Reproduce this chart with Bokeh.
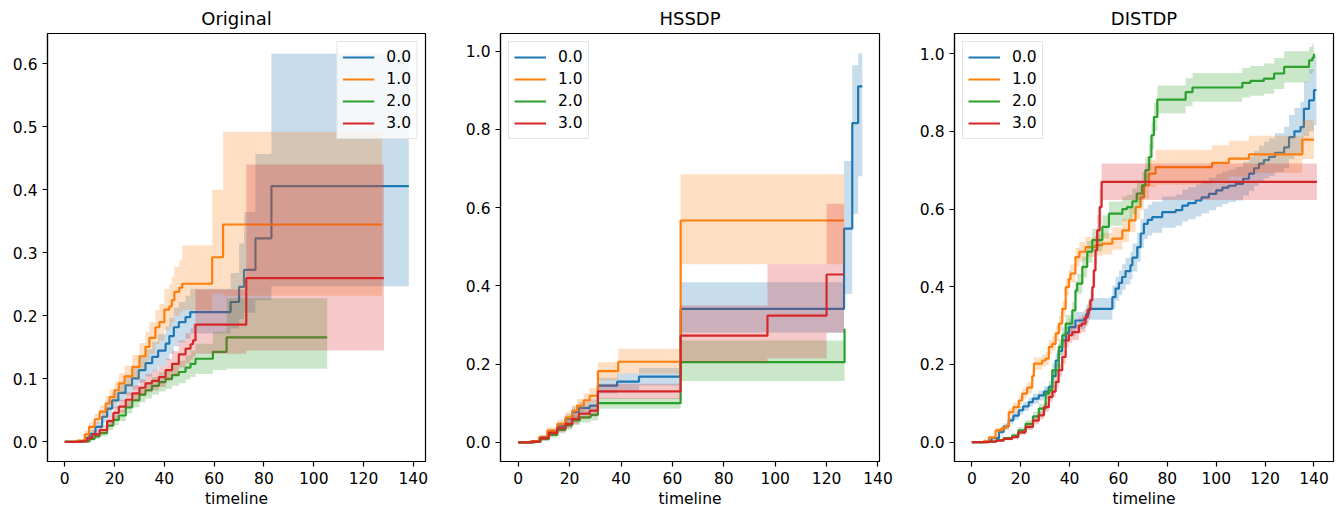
from bokeh.plotting import figure
from bokeh.layouts import row
from bokeh.models import Range1d, FixedTicker, PrintfTickFormatter, Legend, LegendItem
from bokeh.embed import file_html
from bokeh.resources import INLINE

GROUPS = ["0.0", "1.0", "2.0", "3.0"]
COLORS = ["#1f77b4", "#ff7f0e", "#2ca02c", "#d62728"]
TITLES = ["Original", "HSSDP", "DISTDP"]
X_TICKS = [0, 20, 40, 60, 80, 100, 120, 140]
Y_TICKS_ORIG = [0.0, 0.1, 0.2, 0.3, 0.4, 0.5, 0.6]
Y_TICKS_DP = [0.0, 0.2, 0.4, 0.6, 0.8, 1.0]
X_LABEL = "timeline"

# ---------------- Original ----------------
orig_t0 = [0, 5, 8, 10, 12.3, 15, 17, 19, 21.5, 24.4, 27, 29.7, 32.4, 35.1, 37.5, 40.5, 42, 43.8, 45.8, 48.5, 50.4, 66.6, 70, 72, 76.6, 83]
orig_y0 = [0, 0.001, 0.006, 0.013, 0.024, 0.04, 0.053, 0.066, 0.078, 0.09, 0.101, 0.114, 0.125, 0.135, 0.145, 0.156, 0.168, 0.182, 0.19, 0.198, 0.206, 0.222, 0.246, 0.273, 0.323, 0.406]
orig_lo0 = [0, 0, 0.003, 0.008, 0.017, 0.031, 0.042, 0.053, 0.064, 0.074, 0.083, 0.094, 0.104, 0.112, 0.12, 0.13, 0.14, 0.152, 0.158, 0.164, 0.172, 0.18, 0.195, 0.205, 0.225, 0.247]
orig_hi0 = [0, 0.003, 0.01, 0.019, 0.032, 0.05, 0.065, 0.079, 0.093, 0.107, 0.12, 0.135, 0.147, 0.159, 0.171, 0.183, 0.197, 0.213, 0.222, 0.232, 0.243, 0.268, 0.315, 0.365, 0.457, 0.616]
orig_end0 = 138.2

orig_t1 = [0, 5, 8, 9.7, 12, 14, 16.4, 18, 20, 21.7, 24, 27.1, 30, 32.4, 34, 36.4, 38, 40, 42, 43, 44, 46, 47.2, 59.2, 63.6]
orig_y1 = [0, 0.002, 0.012, 0.024, 0.036, 0.048, 0.061, 0.071, 0.082, 0.093, 0.104, 0.119, 0.136, 0.151, 0.165, 0.182, 0.19, 0.21, 0.215, 0.225, 0.238, 0.245, 0.251, 0.293, 0.345]
orig_lo1 = [0, 0, 0.007, 0.017, 0.028, 0.038, 0.049, 0.058, 0.068, 0.077, 0.087, 0.1, 0.115, 0.128, 0.14, 0.155, 0.161, 0.178, 0.182, 0.19, 0.2, 0.205, 0.209, 0.235, 0.232]
orig_hi1 = [0, 0.004, 0.017, 0.031, 0.045, 0.058, 0.073, 0.084, 0.096, 0.109, 0.121, 0.138, 0.157, 0.174, 0.19, 0.209, 0.219, 0.243, 0.25, 0.262, 0.278, 0.288, 0.312, 0.40, 0.492]
orig_end1 = 127.5

orig_t2 = [0, 7, 10, 12, 14, 17, 19.5, 21.7, 24.5, 27.1, 30, 32.4, 35, 37.8, 40.5, 43.1, 45.8, 48.5, 50.5, 52.5, 59.5, 65]
orig_y2 = [0, 0.001, 0.005, 0.009, 0.014, 0.026, 0.035, 0.042, 0.055, 0.066, 0.075, 0.082, 0.089, 0.095, 0.1, 0.106, 0.111, 0.118, 0.124, 0.132, 0.143, 0.166]
orig_lo2 = [0, 0, 0.002, 0.005, 0.009, 0.019, 0.027, 0.033, 0.045, 0.055, 0.063, 0.069, 0.075, 0.08, 0.084, 0.089, 0.093, 0.099, 0.103, 0.108, 0.114, 0.116]
orig_hi2 = [0, 0.002, 0.008, 0.013, 0.019, 0.033, 0.043, 0.051, 0.065, 0.077, 0.087, 0.095, 0.103, 0.11, 0.116, 0.123, 0.129, 0.137, 0.145, 0.156, 0.175, 0.228]
orig_end2 = 105.4

orig_t3 = [0, 6, 9, 11, 14, 17, 19.5, 21.7, 24.5, 27.1, 30, 32.4, 35, 37.8, 40.5, 43.1, 45.8, 48.5, 50.5, 51.5, 52.5, 72.9]
orig_y3 = [0, 0.001, 0.006, 0.012, 0.019, 0.033, 0.046, 0.056, 0.067, 0.077, 0.086, 0.093, 0.097, 0.103, 0.114, 0.124, 0.139, 0.148, 0.155, 0.161, 0.186, 0.26]
orig_lo3 = [0, 0, 0.003, 0.007, 0.013, 0.025, 0.037, 0.046, 0.056, 0.065, 0.073, 0.079, 0.082, 0.087, 0.097, 0.105, 0.118, 0.125, 0.131, 0.135, 0.14, 0.145]
orig_hi3 = [0, 0.003, 0.01, 0.018, 0.026, 0.042, 0.056, 0.067, 0.079, 0.09, 0.1, 0.108, 0.113, 0.12, 0.132, 0.144, 0.161, 0.172, 0.18, 0.188, 0.242, 0.44]
orig_end3 = 128.2

# ---------------- HSSDP ----------------
hss_t0 = [0, 5.4, 8.6, 11.9, 15.2, 18.4, 21, 23.6, 27.8, 31.0, 38.5, 47, 63.2, 126.8, 130, 132.3]
hss_y0 = [0, 0.003, 0.013, 0.026, 0.041, 0.060, 0.077, 0.088, 0.094, 0.145, 0.155, 0.168, 0.341, 0.546, 0.816, 0.910]
hss_lo0 = [0, 0, 0.007, 0.018, 0.031, 0.048, 0.063, 0.073, 0.078, 0.125, 0.134, 0.145, 0.281, 0.38, 0.584, 0.68]
hss_hi0 = [0, 0.006, 0.019, 0.034, 0.051, 0.072, 0.091, 0.103, 0.11, 0.165, 0.176, 0.19, 0.409, 0.719, 0.964, 0.994]
hss_end0 = 133.9

hss_t1 = [0, 4.8, 8.1, 11.3, 15.2, 18.4, 21, 22.9, 25.5, 27.8, 31.0, 38.9, 63.2]
hss_y1 = [0, 0.003, 0.013, 0.030, 0.047, 0.064, 0.081, 0.094, 0.107, 0.119, 0.182, 0.206, 0.567]
hss_lo1 = [0, 0, 0.007, 0.021, 0.036, 0.051, 0.066, 0.077, 0.089, 0.099, 0.158, 0.175, 0.455]
hss_hi1 = [0, 0.006, 0.019, 0.039, 0.058, 0.077, 0.096, 0.111, 0.125, 0.139, 0.205, 0.239, 0.685]
hss_end1 = 126.8

hss_t2 = [0, 6.5, 8.6, 11.9, 15.2, 18.4, 21, 24, 28.2, 31.0, 63.2, 127]
hss_y2 = [0, 0.001, 0.008, 0.019, 0.032, 0.043, 0.056, 0.064, 0.070, 0.100, 0.205, 0.290]
hss_lo2 = [0, 0, 0.004, 0.012, 0.023, 0.033, 0.044, 0.051, 0.056, 0.086, 0.157, 0.2]
hss_hi2 = [0, 0.003, 0.012, 0.026, 0.041, 0.053, 0.068, 0.077, 0.084, 0.113, 0.26, 0.26]
hss_end2 = 127

hss_t3 = [0, 5.4, 8.6, 11.9, 15.2, 18.4, 21, 23.6, 27.8, 31.0, 63.2, 97, 120]
hss_y3 = [0, 0.002, 0.011, 0.024, 0.036, 0.047, 0.060, 0.073, 0.081, 0.130, 0.273, 0.324, 0.429]
hss_lo3 = [0, 0, 0.006, 0.016, 0.027, 0.036, 0.047, 0.059, 0.066, 0.111, 0.205, 0.215, 0.28]
hss_hi3 = [0, 0.005, 0.016, 0.032, 0.045, 0.058, 0.073, 0.087, 0.096, 0.150, 0.35, 0.455, 0.61]
hss_end3 = 126.8

# ---------------- DISTDP ----------------
dist_t0 = [0, 5, 8, 11.1, 13, 15.1, 17, 19.2, 21, 23.3, 25, 27.4, 29.5, 31.5, 33, 34.3, 35.5, 37, 38.5, 39.7,
           42.4, 45.8, 46.8, 47.9, 57.5, 58.8, 60.2, 61.5, 62.9, 64.9, 65.7, 67.7, 69.1, 70.4, 72, 73.8, 77.9, 83.4, 86.1, 88.5,
           91.6, 94, 97, 100, 102.5, 105, 108, 111, 113.4, 115.5, 117.5, 119.5, 121.6, 124, 127.8, 129.8, 132, 134.5, 135.9, 138, 140]
dist_y0 = [0, 0.002, 0.01, 0.026, 0.04, 0.056, 0.068, 0.082, 0.092, 0.103, 0.112, 0.12, 0.13, 0.142, 0.17, 0.21, 0.235, 0.262, 0.28, 0.296,
           0.313, 0.317, 0.33, 0.343, 0.373, 0.395, 0.41, 0.425, 0.44, 0.455, 0.475, 0.502, 0.537, 0.562, 0.572, 0.579, 0.592, 0.597, 0.609, 0.615,
           0.622, 0.63, 0.639, 0.648, 0.655, 0.66, 0.665, 0.678, 0.691, 0.705, 0.717, 0.726, 0.734, 0.745, 0.759, 0.785, 0.8, 0.811, 0.858, 0.88, 0.906]
dist_e0 = [0, 0.001, 0.004, 0.007, 0.008, 0.009, 0.01, 0.011, 0.012, 0.012, 0.013, 0.013, 0.014, 0.015, 0.016, 0.018, 0.019, 0.02, 0.021, 0.022,
           0.022, 0.023, 0.024, 0.028, 0.03, 0.031, 0.032, 0.033, 0.034, 0.035, 0.036, 0.037, 0.038, 0.039, 0.04, 0.04, 0.04, 0.04, 0.041, 0.041,
           0.041, 0.041, 0.042, 0.042, 0.042, 0.042, 0.043, 0.043, 0.044, 0.045, 0.046, 0.047, 0.048, 0.05, 0.053, 0.057, 0.06, 0.065, 0.07, 0.08, 0.09]
dist_end0 = 141

dist_t1 = [0, 5, 7, 9.7, 12, 13.8, 15.1, 17, 19.2, 20.6, 22.6, 24.7, 25.4, 28.8, 30.2, 31.5, 32.9, 34.3, 35.6, 37,
           38.4, 39.7, 40.4, 42.4, 44, 46.5, 50.6, 53.4, 57.5, 61.6, 64.3, 67, 69, 70.4, 72.5, 75.2, 98.3, 105.2, 113.4, 135.2]
dist_y1 = [0, 0.003, 0.012, 0.03, 0.035, 0.04, 0.077, 0.09, 0.107, 0.125, 0.14, 0.17, 0.202, 0.21, 0.215, 0.245, 0.253, 0.28, 0.305, 0.343,
           0.399, 0.42, 0.434, 0.476, 0.49, 0.502, 0.507, 0.511, 0.524, 0.545, 0.571, 0.605, 0.63, 0.661, 0.691, 0.708, 0.719, 0.730, 0.741, 0.779]
dist_e1 = [0, 0.001, 0.004, 0.007, 0.008, 0.008, 0.01, 0.011, 0.012, 0.013, 0.014, 0.015, 0.016, 0.016, 0.017, 0.018, 0.018, 0.019, 0.02, 0.021,
           0.022, 0.023, 0.023, 0.024, 0.025, 0.026, 0.027, 0.028, 0.029, 0.03, 0.031, 0.032, 0.033, 0.034, 0.035, 0.045, 0.045, 0.046, 0.048, 0.05]
dist_end1 = 140

dist_t2 = [0, 7, 10, 13, 16.5, 19, 22, 25, 27.4, 30.2, 31.5, 32.9, 35.6, 37, 38.4, 41.1, 42.4, 43.1, 45.2, 47.2,
           49.3, 53.4, 56.1, 61.6, 63.5, 65.7, 67.5, 69.7, 71, 72.5, 73.5, 74.5, 75.9, 87.5, 90.3, 110.7, 114, 119.5, 123.7, 127.8,
           138, 139.4, 140]
dist_y2 = [0, 0.001, 0.005, 0.01, 0.017, 0.03, 0.047, 0.066, 0.086, 0.125, 0.133, 0.185, 0.245, 0.275, 0.305, 0.339, 0.39, 0.408, 0.451, 0.49,
           0.52, 0.554, 0.588, 0.6, 0.605, 0.62, 0.64, 0.661, 0.7, 0.734, 0.79, 0.837, 0.882, 0.901, 0.913, 0.925, 0.93, 0.936, 0.949, 0.966,
           0.983, 0.99, 1.0]
dist_e2 = [0, 0.001, 0.002, 0.004, 0.006, 0.008, 0.01, 0.012, 0.013, 0.015, 0.016, 0.018, 0.02, 0.021, 0.022, 0.023, 0.025, 0.026, 0.027, 0.028,
           0.029, 0.03, 0.031, 0.032, 0.032, 0.033, 0.033, 0.034, 0.034, 0.035, 0.035, 0.036, 0.036, 0.036, 0.037, 0.038, 0.038, 0.039, 0.04, 0.04,
           0.035, 0.035, 0.03]
dist_end2 = 140

dist_t3 = [0, 7, 10, 13, 16.5, 19, 22, 25, 27.4, 29.5, 31.5, 33, 34.3, 35.5, 37, 38.4, 39.7, 41.1, 43.8, 45,
           46.5, 47.5, 48.5, 49.3, 49.9, 50.6, 51.3, 52.3, 53.1]
dist_y3 = [0, 0.001, 0.004, 0.008, 0.013, 0.025, 0.039, 0.055, 0.069, 0.09, 0.116, 0.13, 0.155, 0.185, 0.219, 0.262, 0.275, 0.283, 0.30, 0.305,
           0.322, 0.34, 0.365, 0.399, 0.442, 0.494, 0.545, 0.605, 0.670]
dist_e3 = [0, 0.001, 0.002, 0.003, 0.004, 0.006, 0.008, 0.009, 0.01, 0.012, 0.013, 0.014, 0.015, 0.016, 0.017, 0.018, 0.019, 0.02, 0.021, 0.022,
           0.023, 0.024, 0.025, 0.027, 0.03, 0.035, 0.04, 0.045, 0.047]
dist_end3 = 141.2

FONT = "DejaVu Sans"


def with_end(seq, last_x, end):
    seq = list(seq)
    if end > last_x:
        seq.append(seq[-1])
    return seq


def series_pack(t, y, lo, hi, end):
    tt = list(t)
    if end > t[-1]:
        tt.append(end)
    return (tt, with_end(y, t[-1], end), with_end(lo, t[-1], end), with_end(hi, t[-1], end))


def err_pack(t, y, e, end):
    lo = [max(0.0, a - b) for a, b in zip(y, e)]
    hi = [a + b for a, b in zip(y, e)]
    return series_pack(t, y, lo, hi, end)


orig_series = [
    series_pack(orig_t0, orig_y0, orig_lo0, orig_hi0, orig_end0),
    series_pack(orig_t1, orig_y1, orig_lo1, orig_hi1, orig_end1),
    series_pack(orig_t2, orig_y2, orig_lo2, orig_hi2, orig_end2),
    series_pack(orig_t3, orig_y3, orig_lo3, orig_hi3, orig_end3),
]
hss_series = [
    series_pack(hss_t0, hss_y0, hss_lo0, hss_hi0, hss_end0),
    series_pack(hss_t1, hss_y1, hss_lo1, hss_hi1, hss_end1),
    series_pack(hss_t2, hss_y2, hss_lo2, hss_hi2, hss_end2),
    series_pack(hss_t3, hss_y3, hss_lo3, hss_hi3, hss_end3),
]
dist_series = [
    err_pack(dist_t0, dist_y0, dist_e0, dist_end0),
    err_pack(dist_t1, dist_y1, dist_e1, dist_end1),
    err_pack(dist_t2, dist_y2, dist_e2, dist_end2),
    err_pack(dist_t3, dist_y3, dist_e3, dist_end3),
]


def make_panel(title, series, xr, yr, yticks, width, bl, br, legend_loc):
    p = figure(width=width, height=511, output_backend="svg", toolbar_location=None,
               x_range=Range1d(*xr), y_range=Range1d(*yr),
               min_border_left=bl, min_border_right=br, min_border_top=33, min_border_bottom=50)
    p.title.text = title
    p.title.align = "center"
    p.title.text_font = FONT
    p.title.text_font_size = "18px"
    p.title.text_font_style = "normal"
    p.title.text_color = "black"
    p.grid.visible = False
    p.outline_line_color = "black"
    p.outline_line_width = 1.2
    p.background_fill_color = "white"
    p.border_fill_color = "white"
    for ax in (p.xaxis[0], p.yaxis[0]):
        ax.major_label_text_font = FONT
        ax.major_label_text_font_size = "15.5px"
        ax.major_label_text_color = "black"
        ax.major_tick_out = 5
        ax.major_tick_in = 0
        ax.minor_tick_out = 0
        ax.minor_tick_in = 0
        ax.axis_line_color = "black"
        ax.axis_line_width = 1.2
        ax.major_tick_line_color = "black"
        ax.major_tick_line_width = 1.2
    p.xaxis.ticker = FixedTicker(ticks=X_TICKS)
    p.yaxis.ticker = FixedTicker(ticks=yticks)
    p.yaxis.formatter = PrintfTickFormatter(format="%.1f")
    p.xaxis.axis_label = X_LABEL
    p.xaxis.axis_label_text_font = FONT
    p.xaxis.axis_label_text_font_size = "15.5px"
    p.xaxis.axis_label_text_font_style = "normal"
    p.xaxis.axis_label_text_color = "black"
    p.xaxis.axis_label_standoff = 3

    items = []
    for (t, y, lo, hi), color, name in zip(series, COLORS, GROUPS):
        r = p.step(t, y, mode="after", line_color=color, line_width=2.2)
        p.varea_step(x=t, y1=lo, y2=hi, step_mode="after", fill_color=color, fill_alpha=0.25)
        items.append(LegendItem(label=name, renderers=[r]))
    legend = Legend(items=items, location=legend_loc)
    legend.margin = 8
    legend.padding = 5
    legend.spacing = 2
    legend.glyph_width = 32
    legend.glyph_height = 20
    legend.label_height = 20
    legend.label_standoff = 12
    legend.label_text_font = FONT
    legend.label_text_font_size = "15.5px"
    legend.label_text_color = "black"
    legend.border_line_color = "#cccccc"
    legend.border_line_width = 1
    legend.background_fill_alpha = 0.8
    p.add_layout(legend)
    return p


p1 = make_panel(TITLES[0], orig_series, (-6.95, 144.9), (-0.031, 0.648), Y_TICKS_ORIG, 447, 47, 22, "top_right")
p2 = make_panel(TITLES[1], hss_series, (-6.9, 140.6), (-0.049, 1.045), Y_TICKS_DP, 453, 53, 21, "top_left")
p3 = make_panel(TITLES[2], dist_series, (-7.1, 148.0), (-0.05, 1.052), Y_TICKS_DP, 444, 54, 11, "top_left")

layout = row(p1, p2, p3)
open("out.html", "w").write(file_html(layout, INLINE))
